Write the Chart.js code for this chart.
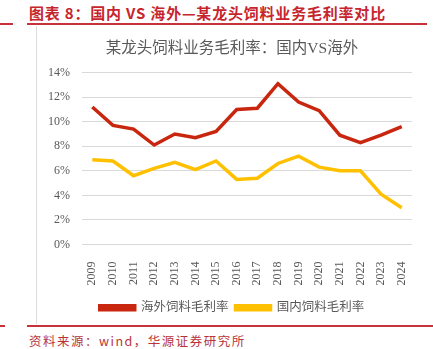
<!DOCTYPE html>
<html>
<head>
<meta charset="utf-8">
<script src="https://cdn.jsdelivr.net/npm/chart.js@4"></script>
<style>
  body { margin: 0; width: 433px; height: 349px; background: #fff; position: relative; overflow: hidden; font-family: 'Noto Sans CJK SC', sans-serif; }
  .rule { position: absolute; background: #c8323a; height: 2px; }
  .header { position: absolute; left: 29px; top: 2px; font-size: 15px; font-weight: bold; color: #c7252e; white-space: nowrap; letter-spacing: 0.8px; }
  .vline { position: absolute; left: 36px; top: 26px; width: 1px; height: 298px; background: #dcdcdc; }
  .source { position: absolute; left: 29px; top: 331px; font-size: 12.5px; color: #b8343a; white-space: nowrap; letter-spacing: 1.5px; }
  #wrap { position: absolute; left: 37px; top: 28px; width: 396px; height: 297px; }
</style>
</head>
<body>
<div class="rule" style="left:0;top:23px;width:13px;"></div>
<div class="header">图表 8：国内 VS 海外—某龙头饲料业务毛利率对比</div>
<div class="rule" style="left:27px;top:23px;width:400px;"></div>
<div class="vline"></div>
<div id="wrap"><canvas id="myChart" width="396" height="297"></canvas></div>
<div class="rule" style="left:0;top:325px;width:5px;"></div>
<div class="rule" style="left:27px;top:325px;width:406px;"></div>
<div class="source">资料来源：wind，华源证券研究所</div>

<script>
const years = ['2009', '2010', '2011', '2012', '2013', '2014', '2015', '2016',
    '2017', '2018', '2019', '2020', '2021', '2022', '2023', '2024'];
// 海外饲料毛利率 (%)
const overseas = [11.2, 9.7, 9.4, 8.1, 9.0, 8.7, 9.2, 11.0, 11.1, 13.1, 11.6, 10.9, 8.9, 8.3, 8.9, 9.6];
// 国内饲料毛利率 (%)
const domestic = [6.9, 6.8, 5.6, 6.2, 6.7, 6.1, 6.8, 5.3, 5.4, 6.6, 7.2, 6.3, 6.0, 6.0, 4.1, 3.0];
const yTicks = [0, 2, 4, 6, 8, 10, 12, 14];

const serif = "'Liberation Serif', 'Noto Sans CJK SC', serif";
const gray = '#595959';

var ctx = document.getElementById('myChart').getContext('2d');

var myChart = new Chart(ctx, { // eslint-disable-line
    type: 'line',
    data: {
        labels: years,
        datasets: [
            {
                label: '海外饲料毛利率',
                data: overseas,
                borderColor: '#c9260f',
                backgroundColor: '#c9260f',
                borderWidth: 3.5,
                pointRadius: 0,
                tension: 0
            },
            {
                label: '国内饲料毛利率',
                data: domestic,
                borderColor: '#ffc000',
                backgroundColor: '#ffc000',
                borderWidth: 3.5,
                pointRadius: 0,
                tension: 0
            }
        ]
    },
    options: {
        responsive: false,
        animation: false,
        layout: { padding: { left: 0, right: 6, top: 0, bottom: 1 } },
        plugins: {
            title: {
                display: true,
                text: '某龙头饲料业务毛利率：国内VS海外',
                color: gray,
                font: { family: serif, size: 15.5, weight: 'normal' },
                padding: { top: 12, bottom: 14 }
            },
            legend: {
                position: 'bottom',
                labels: {
                    boxWidth: 35,
                    boxHeight: 4,
                    padding: 7,
                    color: gray,
                    font: { family: serif, size: 12.5 }
                }
            },
            tooltip: { enabled: false }
        },
        scales: {
            x: {
                offset: true,
                grid: { display: false },
                border: { display: false },
                ticks: {
                    color: gray,
                    font: { family: serif, size: 12 },
                    minRotation: 90,
                    maxRotation: 90,
                    padding: 9
                }
            },
            y: {
                min: 0,
                max: 14,
                afterBuildTicks: (scale) => {
                    scale.ticks = yTicks.map(v => ({ value: v }));
                },
                afterFit: (scale) => {
                    scale.width = 45;
                },
                grid: { color: '#d9d9d9', lineWidth: 1, drawTicks: false },
                border: { display: false },
                ticks: {
                    color: gray,
                    font: { family: serif, size: 12 },
                    padding: 12,
                    callback: (v) => v + '%'
                }
            },
            // empty right axis, only reserves space so the title centres like the original
            y2: {
                position: 'right',
                grid: { display: false },
                border: { display: false },
                ticks: { display: false },
                afterFit: (scale) => {
                    scale.width = 15;
                }
            }
        }
    }
});
</script>
</body>
</html>
